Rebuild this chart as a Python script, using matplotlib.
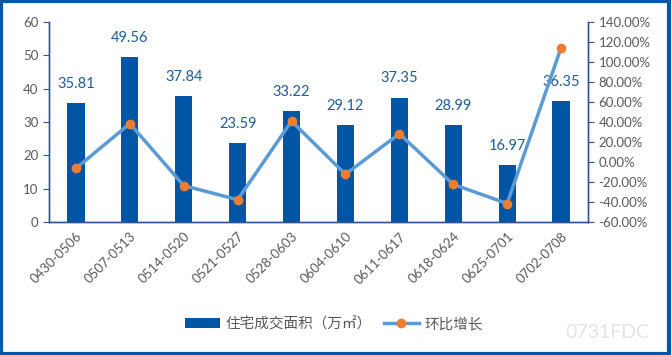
import matplotlib
matplotlib.use("Agg")
import matplotlib.pyplot as plt
from matplotlib.patches import Rectangle
from matplotlib.ticker import FuncFormatter

plt.rcParams['font.family'] = ['Lato', 'Noto Sans CJK SC', 'DejaVu Sans']

# data
weeks = ["0430-0506", "0507-0513", "0514-0520", "0521-0527", "0528-0603",
         "0604-0610", "0611-0617", "0618-0624", "0625-0701", "0702-0708"]
area = [35.81, 49.56, 37.84, 23.59, 33.22, 29.12, 37.35, 28.99, 16.97, 36.35]
growth = [-6.3, 38.4, -23.6, -37.7, 40.8, -12.3, 28.3, -22.4, -41.5, 114.2]

bar_color = "#0055A5"
line_color = "#5B9BD5"
dot_color = "#ED7D31"
tick_color = "#595959"
axis_color = "#2F5597"

fig = plt.figure(figsize=(6.72, 3.55), dpi=100)
ax = fig.add_axes([49/672, 1 - 222/355, (588-49)/672, 200/355])
ax2 = ax.twinx()

x = range(len(weeks))
bars = ax.bar(x, area, width=0.32, color=bar_color, label="住宅成交面积（万㎡）", zorder=2)
for i, v in enumerate(area):
    ax.text(i, v + 3.6, f"{v:.2f}", ha="center", va="bottom", fontsize=10.5, color="#1F5C99")

ax2.plot(x, growth, color=line_color, lw=2.5, marker="o", markersize=6,
         markerfacecolor=dot_color, markeredgecolor=dot_color, label="环比增长", zorder=3)

ax.set_xlim(-0.5, len(weeks) - 0.5)
ax.set_ylim(0, 60)
ax.set_yticks(range(0, 61, 10))
ax2.set_ylim(-60, 140)
ax2.set_yticks(range(-60, 141, 20))
ax2.yaxis.set_major_formatter(FuncFormatter(lambda v, p: f"{v:.2f}%"))

ax.set_xticks(list(x))
ax.set_xticklabels(weeks, rotation=45, ha="right", rotation_mode="anchor")
ax.tick_params(axis="x", length=0, labelsize=9.5, colors=tick_color, pad=6)
ax.tick_params(axis="y", labelsize=9.5, colors=tick_color, length=4, color=axis_color)
ax2.tick_params(axis="y", labelsize=9.5, colors=tick_color, length=4, color=axis_color)

for a in (ax, ax2):
    a.spines["top"].set_visible(False)
    for s in ("left", "right", "bottom"):
        a.spines[s].set_color(axis_color)
        a.spines[s].set_linewidth(1)

h1, l1 = ax.get_legend_handles_labels()
h2, l2 = ax2.get_legend_handles_labels()
fig.legend(h1 + h2, l1 + l2, loc="center", bbox_to_anchor=(334/672, 1 - 324/355),
           ncol=2, frameon=False, fontsize=10.5, handlelength=2.4, handletextpad=0.4,
           columnspacing=0.8, labelcolor=tick_color)

# watermark
fig.text(607/672, 1 - 332/355, "0731FDC", fontsize=14, color="#E3E3E3", ha="center", va="center")

# border
fig.patches.append(Rectangle((0.002, 0.004), 0.994, 0.992, transform=fig.transFigure,
                             fill=False, edgecolor="#0057A8", linewidth=3))

fig.savefig("out.png", dpi=100)
